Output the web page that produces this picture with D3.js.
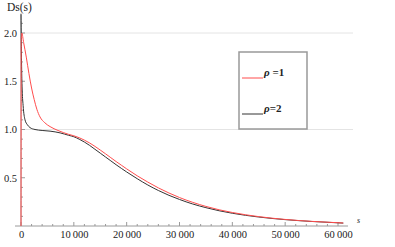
<!DOCTYPE html>
<html><head><meta charset="utf-8">
<script src="https://cdn.jsdelivr.net/npm/d3@7"></script>
<style>body{margin:0;background:#fff}svg{display:block}text{font-family:"Liberation Serif","DejaVu Serif",serif}</style>
</head><body><svg id="c" width="395" height="247"></svg>
<script>
const sRed = [0, 40, 150, 500, 1000, 1500, 2000, 2500, 3000, 3600, 4500, 5500, 7000, 9000, 10000, 11000, 12000, 13000, 14000, 15000, 16000, 17000, 18000, 19000, 20000, 22000, 24000, 26000, 28000, 30000, 32500, 35000, 37500, 40000, 45000, 50000, 55000, 61000];
const rho1 = [0, 1.9, 2.0, 1.90, 1.75, 1.58, 1.43, 1.31, 1.21, 1.13, 1.07, 1.03, 0.99, 0.95, 0.935, 0.915, 0.89, 0.86, 0.825, 0.787, 0.748, 0.708, 0.668, 0.63, 0.592, 0.52, 0.455, 0.395, 0.342, 0.295, 0.245, 0.203, 0.168, 0.14, 0.097, 0.068, 0.048, 0.031];
const sBlack = [0, 100, 200, 400, 760, 1200, 1700, 2650, 4000, 5500, 7400, 9000, 10000, 11000, 12000, 13000, 14000, 15000, 16000, 17000, 18000, 19000, 20000, 22000, 24000, 26000, 28000, 30000, 32500, 35000, 37500, 40000, 45000, 50000, 55000, 61000];
const rho2 = [2.2, 1.7, 1.45, 1.25, 1.10, 1.05, 1.02, 1.0, 0.99, 0.983, 0.965, 0.94, 0.925, 0.90, 0.87, 0.835, 0.795, 0.755, 0.715, 0.675, 0.635, 0.597, 0.56, 0.49, 0.425, 0.368, 0.318, 0.275, 0.228, 0.19, 0.158, 0.132, 0.093, 0.066, 0.047, 0.03];
const xTicks = [0, 10000, 20000, 30000, 40000, 50000, 60000];
const yTicks = [0.5, 1.0, 1.5, 2.0];
const gridY = [1.0, 2.0];
const legendLabels = ["\u03C1 =1", "\u03C1=2"];

const svg = d3.select("#c");
const x = d3.scaleLinear().domain([0, 60000]).range([21, 338]);
const y = d3.scaleLinear().domain([0, 2.0]).range([226, 33]);
const axisCol = "#9a9a9a";

// grid
svg.append("g").selectAll("line").data(gridY).join("line")
  .attr("x1", x(0)).attr("x2", 353).attr("y1", d => y(d)).attr("y2", d => y(d))
  .attr("stroke", "#e4e4e4").attr("stroke-width", 1);

// x axis
const fmt = d => d === 0 ? "0" : d3.format(",")(d).replace(",", "\u2009");
const xAxis = d3.axisBottom(x).tickValues(xTicks).tickFormat(fmt).tickSize(0).tickPadding(5);
const gx = svg.append("g").attr("transform", `translate(0,${y(0)})`).call(xAxis);
gx.select(".domain").remove();
gx.selectAll("text").attr("font-size", 10.5).attr("fill", "#222");
svg.append("line").attr("x1", 15).attr("x2", x(61900)).attr("y1", y(0)).attr("y2", y(0)).attr("stroke", axisCol);
const xMinor = d3.range(0, 62000, 2000);
svg.append("g").selectAll("line").data(xMinor).join("line")
  .attr("x1", d => x(d)).attr("x2", d => x(d)).attr("y1", y(0))
  .attr("y2", d => y(0) - (d % 10000 === 0 ? 4 : 2)).attr("stroke", axisCol);

// y axis
const yAxis = d3.axisLeft(y).tickValues(yTicks).tickFormat(d3.format(".1f")).tickSize(0).tickPadding(4);
const gy = svg.append("g").attr("transform", `translate(${x(0)},0)`).call(yAxis);
gy.select(".domain").remove();
gy.selectAll("text").attr("font-size", 10.5).attr("fill", "#222");
svg.append("line").attr("x1", x(0)).attr("x2", x(0)).attr("y1", y(0)).attr("y2", y(2.19)).attr("stroke", axisCol);
const yMinor = d3.range(0.1, 2.15, 0.1);
svg.append("g").selectAll("line").data(yMinor).join("line")
  .attr("x1", x(0)).attr("y1", d => y(d)).attr("y2", d => y(d))
  .attr("x2", d => x(0) + (Math.abs(d * 2 - Math.round(d * 2)) < 1e-6 ? 4 : 2)).attr("stroke", axisCol);

// curves
const line = d3.line().x(d => x(d[0])).y(d => y(d[1])).curve(d3.curveMonotoneX);
svg.append("path").datum(sBlack.map((s, i) => [s, rho2[i]])).attr("d", line)
  .attr("fill", "none").attr("stroke", "#333").attr("stroke-width", 1);
svg.append("path").datum(sRed.map((s, i) => [s, rho1[i]])).attr("d", line)
  .attr("fill", "none").attr("stroke", "#ff4d4d").attr("stroke-width", 1);

// axis labels
svg.append("text").attr("x", 7).attr("y", 11).attr("font-size", 11.5).attr("fill", "#222").text("Ds(s)");
svg.append("text").attr("x", 357).attr("y", 223).attr("font-size", 8).attr("font-style", "italic").attr("fill", "#222").text("s");

// legend
svg.append("rect").attr("x", 239).attr("y", 52).attr("width", 68).attr("height", 77)
  .attr("fill", "#fff").attr("stroke", "#999").attr("stroke-width", 1.5);
const legCols = ["#ff4d4d", "#333"];
const legY = [78, 114];
legendLabels.forEach((t, i) => {
  svg.append("line").attr("x1", 242).attr("x2", 263).attr("y1", legY[i]).attr("y2", legY[i]).attr("stroke", legCols[i]);
  const tx = svg.append("text").attr("x", 264).attr("y", legY[i] - 2).attr("font-size", 11).attr("font-weight", "bold").attr("fill", "#222");
  tx.append("tspan").attr("font-style", "italic").text(t[0]);
  tx.append("tspan").text(t.slice(1));
});
</script></body></html>
